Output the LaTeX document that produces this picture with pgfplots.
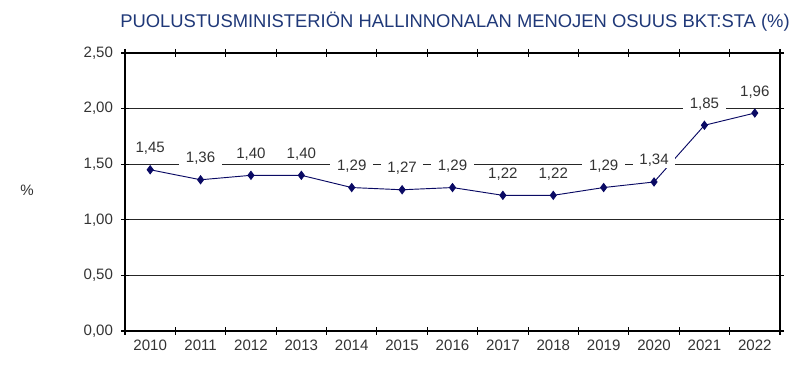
\documentclass[border=0pt]{standalone}
\usepackage{fontspec}
\setmainfont{Liberation Sans}
\usepackage{pgfplots}
\pgfplotsset{compat=1.18}
\definecolor{titleblue}{RGB}{31,56,120}
\definecolor{navy}{RGB}{10,10,100}
\begin{document}
\begin{tikzpicture}
\useasboundingbox (-93.75pt,-29.25pt) rectangle (510pt,248.25pt);
\begin{axis}[
  scale only axis,
  width=491.25pt, height=208.5pt,
  at={(0,0)}, anchor=south west,
  xmin=-0.5, xmax=12.5,
  ymin=0, ymax=2.5,
  xtick={-0.5,0.5,...,12.5},
  x tick label as interval,
  xticklabels={2010,2011,2012,2013,2014,2015,2016,2017,2018,2019,2020,2021,2022},
  ytick={0,0.5,...,2.5},
  ymajorgrids,
  grid style={black!85, line width=0.6pt},
  tick align=center,
  major tick length=6pt,
  tick style={black, line width=0.8pt},
  axis line style={black, line width=1.3pt},
  axis lines*=box,
  tick label style={font=\fontsize{11.3pt}{13pt}\selectfont, text=black!80},
  yticklabel style={xshift=-2.5pt},
  /pgf/number format/.cd, fixed, fixed zerofill, precision=2, use comma, assume math mode=true,
]
\addplot[color=navy, line width=0.7pt, mark=diamond*, mark size=3pt, mark options={fill=navy, draw=navy},
  nodes near coords,
  every node near coord/.append style={font=\fontsize{11.3pt}{13pt}\selectfont, text=black!80, fill=white, inner xsep=5pt, inner ysep=1pt, anchor=center, yshift=16pt,
   /pgf/number format/.cd, fixed, fixed zerofill, precision=2, use comma, assume math mode=true}]
coordinates {
(0,1.45) (1,1.36) (2,1.40) (3,1.40) (4,1.29) (5,1.27) (6,1.29) (7,1.22) (8,1.22) (9,1.29) (10,1.34) (11,1.85) (12,1.96)
};
\end{axis}
\node[font=\fontsize{13.8pt}{16pt}\selectfont, text=titleblue] at (247.5pt,231.75pt) {PUOLUSTUSMINISTERIÖN HALLINNONALAN MENOJEN OSUUS BKT:STA (\%)};
\node[font=\fontsize{11.3pt}{13pt}\selectfont, text=black!80] at (-73.5pt,105.75pt) {\%};
\end{tikzpicture}
\end{document}
